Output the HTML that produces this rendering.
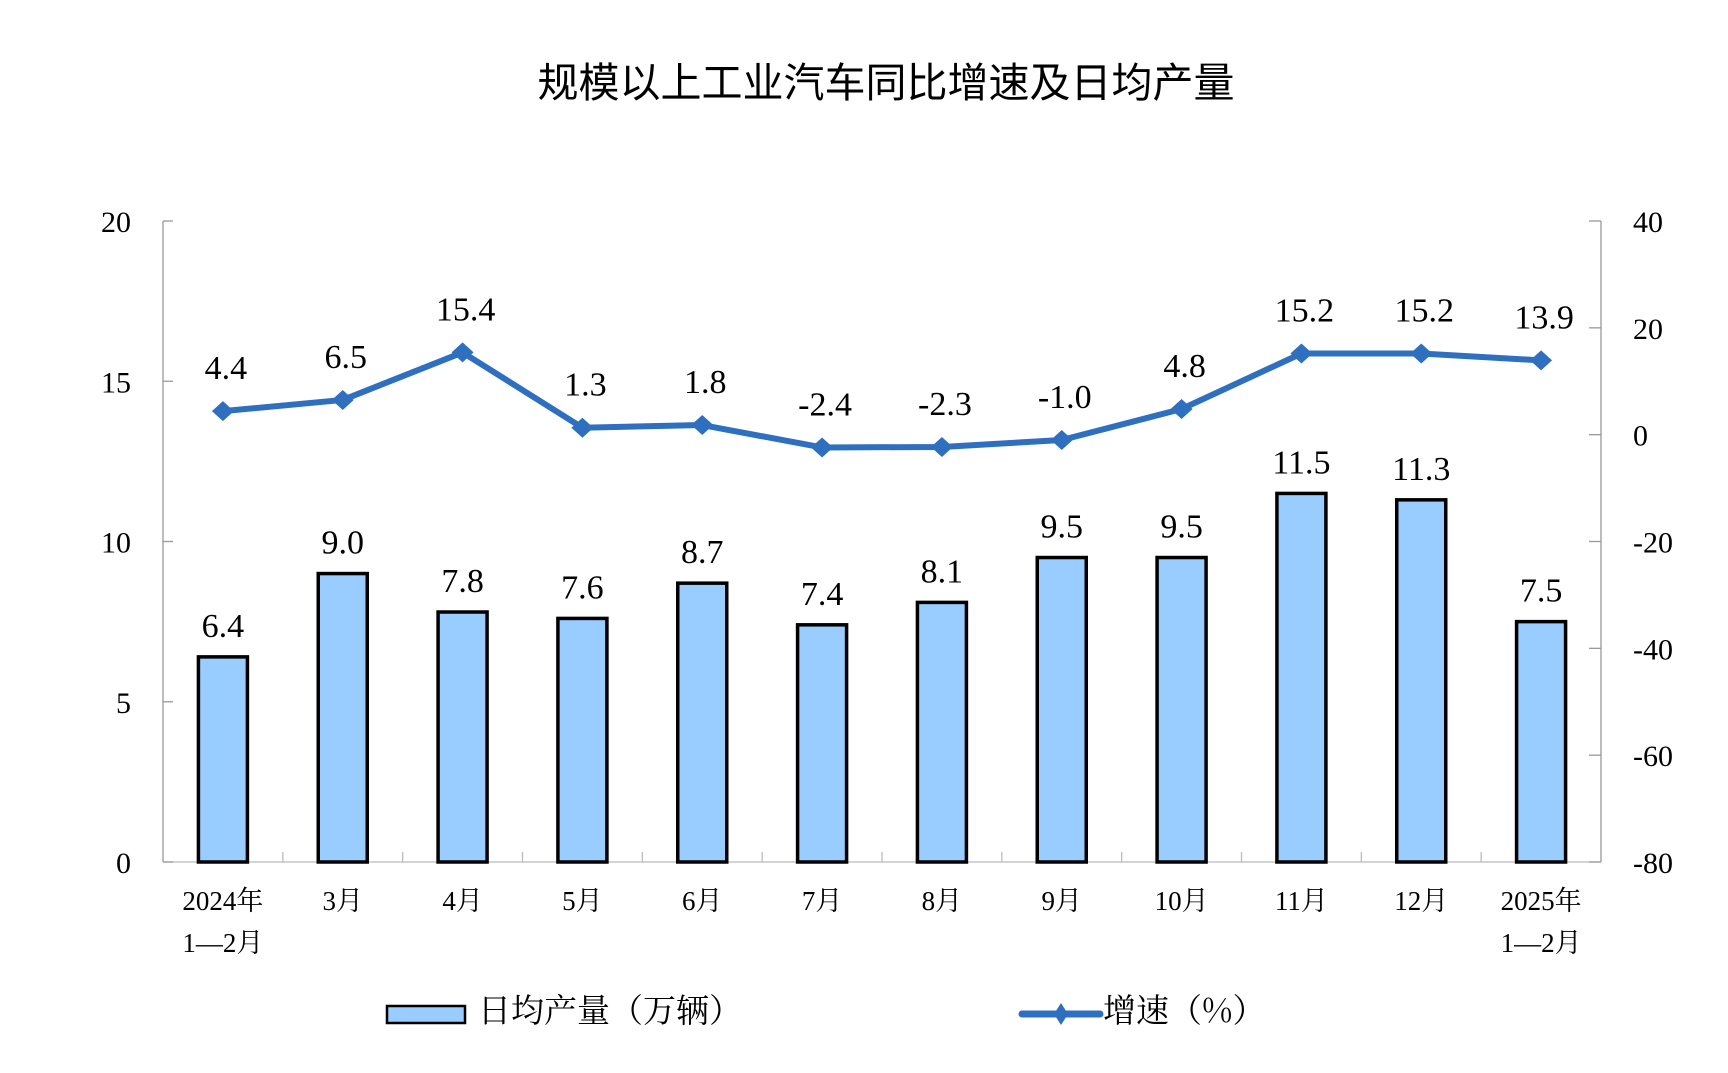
<!DOCTYPE html>
<html><head><meta charset="utf-8"><style>
html,body{margin:0;padding:0;background:#fff;}
svg text{font-family:"Liberation Serif","Noto Serif CJK SC",serif;fill:#000;}
</style></head><body>
<svg id="chart" width="1728" height="1068" viewBox="0 0 1728 1068" xmlns="http://www.w3.org/2000/svg">
<text x="886" y="97" font-size="41" text-anchor="middle" style="font-family:'Noto Sans CJK SC','Liberation Sans',sans-serif">规模以上工业汽车同比增速及日均产量</text>
<g id="axes"></g><g id="bars"></g><g id="line"></g><g id="labels"></g>
<g>
<rect x="387" y="1006" width="78" height="17" fill="#99ccff" stroke="#000" stroke-width="2.5"/>
<text x="478" y="1022" font-size="33" style="font-family:'Noto Serif CJK SC',serif">日均产量（万辆）</text>
<line x1="1022" y1="1014" x2="1100" y2="1014" stroke="#2e6fc0" stroke-width="7" stroke-linecap="round"/>
<polygon points="1061,1003 1068,1014 1061,1025 1054,1014" fill="#2e6fc0"/>
<text x="1103" y="1022" font-size="33" style="font-family:'Noto Serif CJK SC',serif">增速（%）</text>
</g>
</svg>
<script>
const categories=["2024年|1—2月","3月","4月","5月","6月","7月","8月","9月","10月","11月","12月","2025年|1—2月"];
const output=[6.4,9.0,7.8,7.6,8.7,7.4,8.1,9.5,9.5,11.5,11.3,7.5];
const growth=[4.4,6.5,15.4,1.3,1.8,-2.4,-2.3,-1.0,4.8,15.2,15.2,13.9];
const leftTicks=[0,5,10,15,20];
const rightTicks=[-80,-60,-40,-20,0,20,40];

const NS="http://www.w3.org/2000/svg";
const L=163,R=1601,T=221,B=862;
const slot=(R-L)/categories.length;
const xc=i=>L+slot*(i+0.5);
const yL=v=>B-(v-0)/(20-0)*(B-T);
const yR=v=>B-(v+80)/(40+80)*(B-T);
function mk(tag,attrs,parent,txt){const e=document.createElementNS(NS,tag);for(const k in attrs)e.setAttribute(k,attrs[k]);if(txt!==undefined)e.textContent=txt;document.getElementById(parent).appendChild(e);return e;}

// axes
let e=mk('line',{x1:L,y1:T,x2:L,y2:B,stroke:'#999','stroke-width':1.3},'axes');


e=mk('line',{x1:R,y1:T,x2:R,y2:B,stroke:'#999','stroke-width':1.3},'axes');


e=mk('line',{x1:L,y1:B,x2:R,y2:B,stroke:'#bbb','stroke-width':1.3},'axes');


leftTicks.forEach(v=>{
  const y=yL(v);
  let t=mk('line',{x1:L,y1:y,x2:L+10,y2:y,stroke:'#999','stroke-width':1.3},'axes');
  
  
  let s=mk('text',{x:131,y:y+11,'font-size':30,'text-anchor':'end'},'axes',String(v));
  
  
});
rightTicks.forEach(v=>{
  const y=yR(v);
  let t=mk('line',{x1:R-12,y1:y,x2:R,y2:y,stroke:'#999','stroke-width':1.3},'axes');
  
  
  let s=mk('text',{x:1633,y:y+11,'font-size':30},'axes',String(v));
  
  
});
for(let i=1;i<categories.length;i++){
  const x=L+slot*i;
  let t=mk('line',{x1:x,y1:B-10,x2:x,y2:B,stroke:'#bbb','stroke-width':1.3},'axes');
  
  
}
categories.forEach((c,i)=>{
  c.split('|').forEach((ln,k)=>{
    let s=mk('text',{x:xc(i),y:910+k*42,'font-size':27,'text-anchor':'middle'},'axes',ln);
    
    
  });
});
// bars
const bw=49;
output.forEach((v,i)=>{
  const y=yL(v);
  let r=mk('rect',{x:xc(i)-bw/2,y:y,width:bw,height:B-y,fill:'#99ccff',stroke:'#000','stroke-width':3.5},'bars');
  
  
  let s=mk('text',{x:xc(i),y:y-20,'font-size':34,'text-anchor':'middle'},'labels',v.toFixed(1));
  
  
});
// line
const pts=growth.map((v,i)=>xc(i)+','+yR(v)).join(' ');
let pl=mk('polyline',{points:pts,fill:'none',stroke:'#2e6fc0','stroke-width':6,'stroke-linejoin':'round'},'line');


growth.forEach((v,i)=>{
  const x=xc(i),y=yR(v);
  let m=mk('polygon',{points:`${x},${y-10} ${x+11},${y} ${x},${y+10} ${x-11},${y}`,fill:'#2e6fc0'},'line');
  
  
  let s=mk('text',{x:x+3,y:y-32,'font-size':34,'text-anchor':'middle'},'labels',v.toFixed(1));
  
  
});
</script>
</body></html>
